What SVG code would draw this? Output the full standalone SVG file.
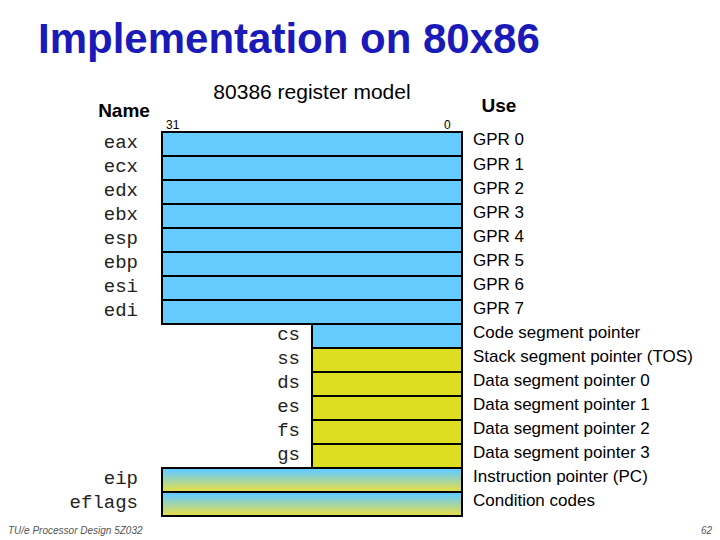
<svg xmlns="http://www.w3.org/2000/svg" width="720" height="540" viewBox="0 0 720 540">
<defs>
<style>
.r{stroke:#000;stroke-width:2}
.b{fill:#66ccff}
.y{fill:#dddd22}
.g{fill:url(#gr)}
.m{font-family:"Liberation Mono",monospace;font-size:19px;text-anchor:end;fill:#222}
.u{font-family:"Liberation Sans",Arial,sans-serif;font-size:17px}
.h{font-family:"Liberation Sans",Arial,sans-serif;font-size:19px;font-weight:bold}
</style>
<linearGradient id="gr" x1="0" y1="0" x2="0" y2="1">
<stop offset="0.1" stop-color="#66ccff"/><stop offset="0.9" stop-color="#dddd55"/>
</linearGradient>
</defs>
<rect width="720" height="540" fill="#fff"/>
<text x="38" y="53" font-family="Liberation Sans,Arial,sans-serif" font-size="42" font-weight="bold" fill="#1a1ab8">Implementation on 80x86</text>
<text x="312" y="99" text-anchor="middle" font-family="Liberation Sans,Arial,sans-serif" font-size="21">80386 register model</text>
<text x="124" y="117" text-anchor="middle" class="h">Name</text>
<text x="499" y="112" text-anchor="middle" class="h">Use</text>
<text x="166" y="129" font-family="Liberation Sans,Arial,sans-serif" font-size="12">31</text>
<text x="444" y="129" font-family="Liberation Sans,Arial,sans-serif" font-size="12">0</text>
<g id="gpr">
<rect class="r b" x="162" y="132" width="300" height="24"/>
<rect class="r b" x="162" y="156" width="300" height="24"/>
<rect class="r b" x="162" y="180" width="300" height="24"/>
<rect class="r b" x="162" y="204" width="300" height="24"/>
<rect class="r b" x="162" y="228" width="300" height="24"/>
<rect class="r b" x="162" y="252" width="300" height="24"/>
<rect class="r b" x="162" y="276" width="300" height="24"/>
<rect class="r b" x="162" y="300" width="300" height="24"/>
</g>
<g id="seg">
<rect class="r b" x="312" y="324" width="150" height="24"/>
<rect class="r y" x="312" y="348" width="150" height="24"/>
<rect class="r y" x="312" y="372" width="150" height="24"/>
<rect class="r y" x="312" y="396" width="150" height="24"/>
<rect class="r y" x="312" y="420" width="150" height="24"/>
<rect class="r y" x="312" y="444" width="150" height="24"/>
</g>
<g id="ctl">
<rect class="r g" x="162" y="468" width="300" height="24"/>
<rect class="r g" x="162" y="492" width="300" height="24"/>
</g>
<g id="names">
<text class="m" x="138" y="148">eax</text>
<text class="m" x="138" y="172">ecx</text>
<text class="m" x="138" y="196">edx</text>
<text class="m" x="138" y="220">ebx</text>
<text class="m" x="138" y="244">esp</text>
<text class="m" x="138" y="268">ebp</text>
<text class="m" x="138" y="292">esi</text>
<text class="m" x="138" y="316">edi</text>
<text class="m" x="300" y="340">cs</text>
<text class="m" x="300" y="364">ss</text>
<text class="m" x="300" y="388">ds</text>
<text class="m" x="300" y="412">es</text>
<text class="m" x="300" y="436">fs</text>
<text class="m" x="300" y="460">gs</text>
<text class="m" x="138" y="484">eip</text>
<text class="m" x="138" y="508">eflags</text>
</g>
<g id="uses">
<text class="u" x="473" y="145">GPR 0</text>
<text class="u" x="473" y="170">GPR 1</text>
<text class="u" x="473" y="194">GPR 2</text>
<text class="u" x="473" y="218">GPR 3</text>
<text class="u" x="473" y="242">GPR 4</text>
<text class="u" x="473" y="266">GPR 5</text>
<text class="u" x="473" y="290">GPR 6</text>
<text class="u" x="473" y="314">GPR 7</text>
<text class="u" x="473" y="338">Code segment pointer</text>
<text class="u" x="473" y="362">Stack segment pointer (TOS)</text>
<text class="u" x="473" y="386">Data segment pointer 0</text>
<text class="u" x="473" y="410">Data segment pointer 1</text>
<text class="u" x="473" y="434">Data segment pointer 2</text>
<text class="u" x="473" y="458">Data segment pointer 3</text>
<text class="u" x="473" y="482">Instruction pointer (PC)</text>
<text class="u" x="473" y="506">Condition codes</text>
</g>
<text x="8" y="534" font-family="Liberation Sans,Arial,sans-serif" font-size="10" font-style="italic" fill="#555">TU/e Processor Design 5Z032</text>
<text x="712" y="534" text-anchor="end" font-family="Liberation Sans,Arial,sans-serif" font-size="10" font-style="italic" fill="#555">62</text>
</svg>
